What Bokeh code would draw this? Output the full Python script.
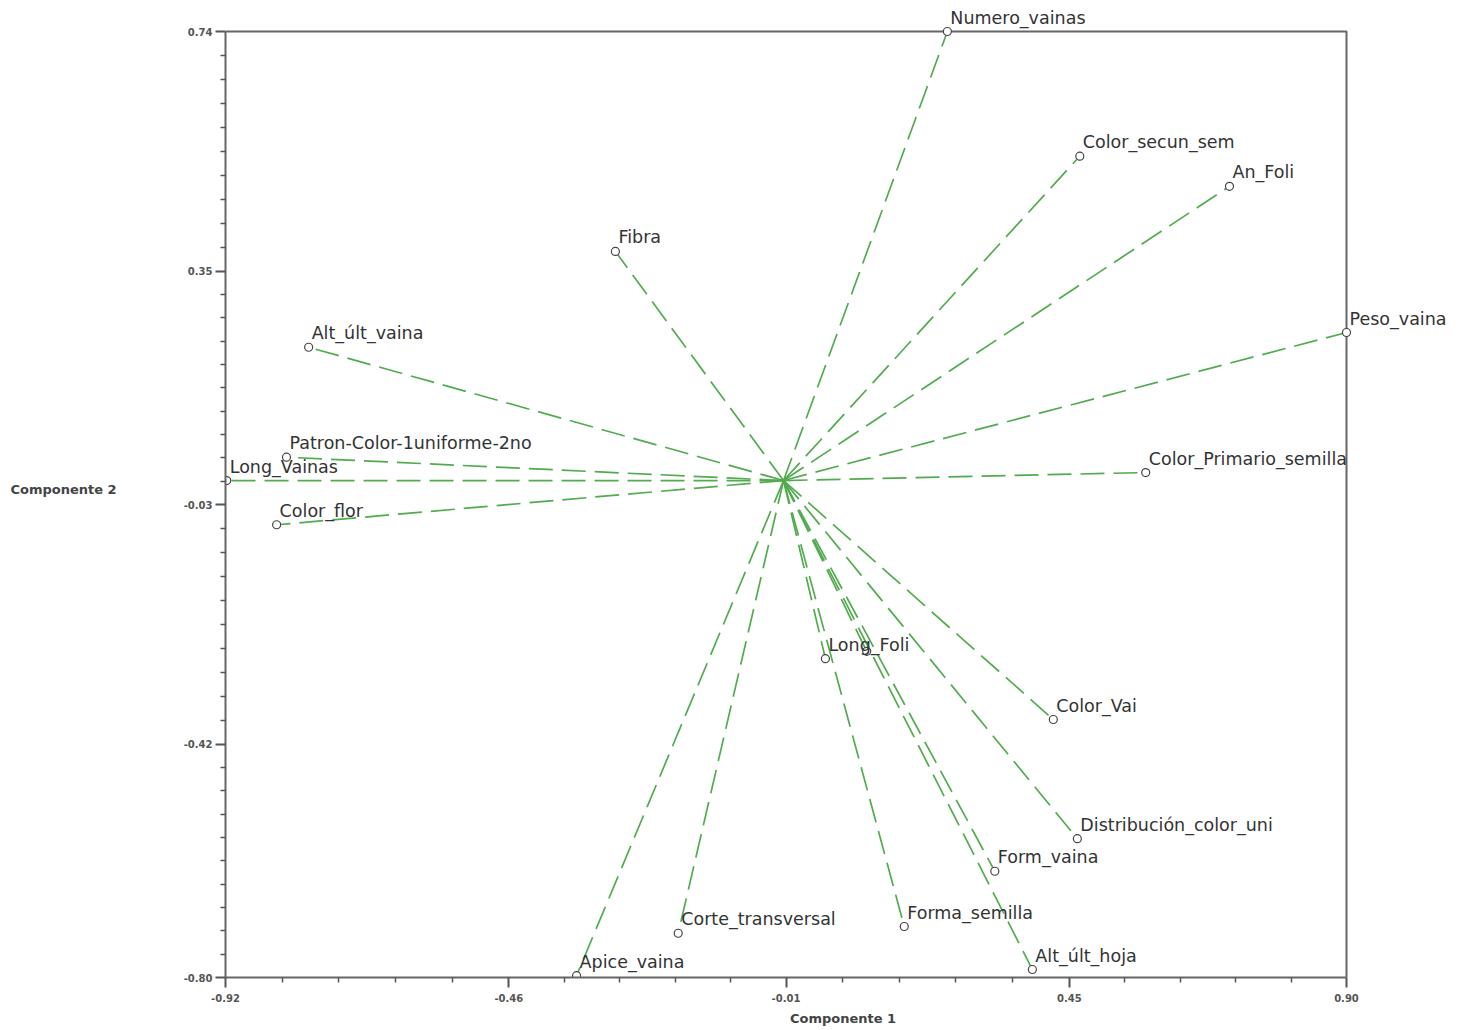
import numpy as np
from bokeh.plotting import figure
from bokeh.models import ColumnDataSource, LabelSet, FixedTicker, Range1d
from bokeh.core.properties import value
from bokeh.embed import file_html
from bokeh.resources import INLINE

# ---- data ----
variables = ["Numero_vainas", "Color_secun_sem", "An_Foli", "Fibra", "Alt_últ_vaina",
             "Peso_vaina", "Patron-Color-1uniforme-2no", "Long_Vainas", "Color_flor",
             "Color_Primario_semilla", "Long_Foli", "", "Color_Vai",
             "Distribución_color_uni", "Form_vaina", "Forma_semilla", "Alt_últ_hoja",
             "Corte_transversal", "Apice_vaina"]
comp1 = [0.252, 0.467, 0.710, -0.287, -0.785, 0.900, -0.821, -0.918, -0.837,
         0.574, 0.054, 0.121, 0.424, 0.463, 0.329, 0.182, 0.390, -0.185, -0.350]
comp2 = [0.740, 0.537, 0.488, 0.382, 0.226, 0.250, 0.047, 0.009, -0.063,
         0.022, -0.281, -0.269, -0.380, -0.574, -0.627, -0.717, -0.787, -0.728, -0.797]
origin_x = -0.014
origin_y = 0.009

x_ticks = [-0.92, -0.46, -0.01, 0.45, 0.90]
y_ticks = [-0.80, -0.42, -0.03, 0.35, 0.74]
x_label = "Componente 1"
y_label = "Componente 2"

src = ColumnDataSource(dict(
    x=comp1, y=comp2, name=variables,
    x0=[origin_x] * len(comp1), y0=[origin_y] * len(comp2)))

# ---- layout ----
LEFT, BOTTOM = 225, 49
PLOT_W, PLOT_H = 1121, 946          # pixel size of the axis box
FRAME_W, FRAME_H = 1235, 977        # frame extends right/up so outside labels show
W, H = LEFT + FRAME_W, FRAME_H + BOTTOM

xspan = x_ticks[-1] - x_ticks[0]
yspan = y_ticks[-1] - y_ticks[0]
x_end = x_ticks[0] + xspan * FRAME_W / PLOT_W
y_end = y_ticks[0] + yspan * FRAME_H / PLOT_H

p = figure(width=W, height=H, frame_width=FRAME_W, frame_height=FRAME_H,
           x_range=Range1d(x_ticks[0], x_end),
           y_range=Range1d(y_ticks[0], y_end),
           output_backend="svg", toolbar_location=None,
           min_border_left=LEFT, min_border_right=0,
           min_border_top=0, min_border_bottom=BOTTOM)

p.background_fill_color = "white"
p.border_fill_color = "white"
p.outline_line_color = None
p.xgrid.visible = False
p.ygrid.visible = False

def minors(ticks, n):
    out = []
    for a, b in zip(ticks[:-1], ticks[1:]):
        out.extend(list(np.linspace(a, b, n + 1)[1:-1]))
    return out

p.xaxis.ticker = FixedTicker(ticks=x_ticks, minor_ticks=minors(x_ticks, 5))
p.yaxis.ticker = FixedTicker(ticks=y_ticks, minor_ticks=minors(y_ticks, 10))
p.xaxis.major_label_overrides = {t: f"{t:.2f}" for t in x_ticks}
p.yaxis.major_label_overrides = {t: f"{t:.2f}" for t in y_ticks}
p.xaxis.bounds = (x_ticks[0], x_ticks[-1])
p.yaxis.bounds = (y_ticks[0], y_ticks[-1])

for ax in (p.xaxis[0], p.yaxis[0]):
    ax.axis_line_color = "#666666"
    ax.axis_line_width = 2
    ax.major_tick_line_color = "#555555"
    ax.major_tick_line_width = 2
    ax.minor_tick_line_color = "#555555"
    ax.minor_tick_line_width = 1.5
    ax.major_tick_out = 10
    ax.major_tick_in = 0
    ax.minor_tick_out = 5
    ax.minor_tick_in = 0
    ax.major_label_text_font = "DejaVu Sans"
    ax.major_label_text_font_size = "10px"
    ax.major_label_text_font_style = "bold"
    ax.major_label_text_color = "#555555"
    ax.axis_label_text_font = "DejaVu Sans"
    ax.axis_label_text_font_size = "13px"
    ax.axis_label_text_font_style = "bold"
    ax.axis_label_text_color = "#444444"

p.xaxis.axis_label = x_label
p.xaxis.axis_label_standoff = 6
p.xaxis.major_label_standoff = 6
p.yaxis.major_label_standoff = 3
p.yaxis.axis_label = y_label
p.yaxis.axis_label_orientation = "horizontal"
p.yaxis.axis_label_standoff = 64

# top and right edges of the axis box
p.line(x=[x_ticks[0], x_ticks[-1], x_ticks[-1]], y=[y_ticks[-1], y_ticks[-1], y_ticks[0]],
       line_color="#666666", line_width=2)

p.segment(x0="x0", y0="y0", x1="x", y1="y", source=src,
          line_color="#52ab4f", line_width=1.7, line_dash="24 9")
p.scatter(x="x", y="y", source=src, marker="circle", size=8,
          fill_color="white", line_color="#444444", line_width=1.2)

labels = LabelSet(x="x", y="y", text="name", source=src, x_offset=3, y_offset=4,
                  text_font=value("DejaVu Sans"), text_font_size="17.5px",
                  text_color="#333333", text_baseline="bottom", text_align="left")
p.add_layout(labels)

open("out.html", "w").write(file_html(p, INLINE))
